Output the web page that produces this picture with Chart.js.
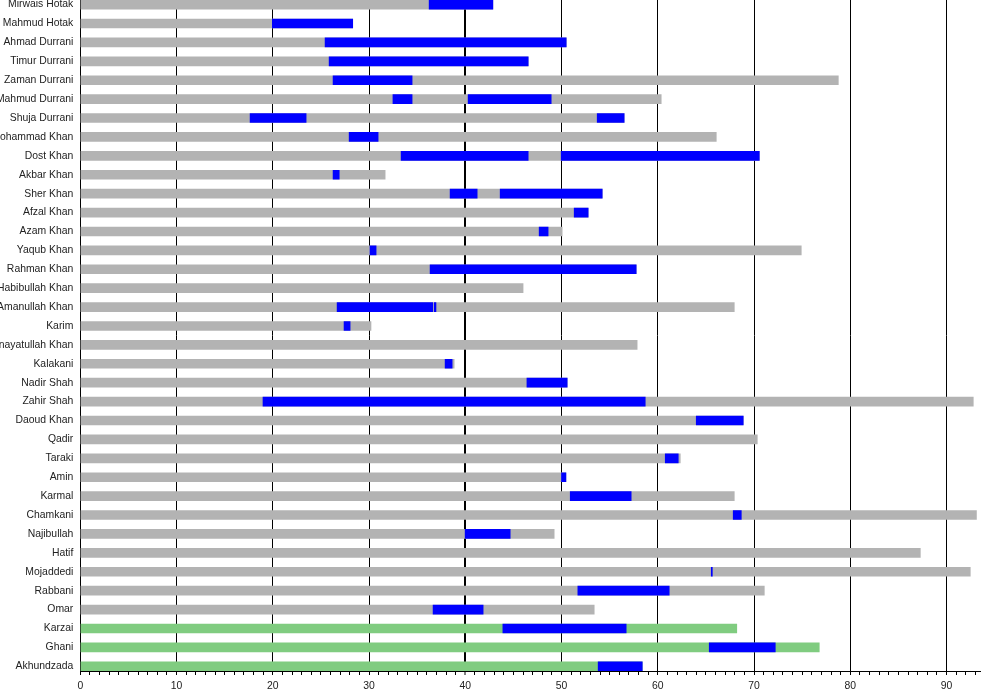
<!DOCTYPE html>
<html>
<head>
<meta charset="utf-8">
<script src="https://cdn.jsdelivr.net/npm/chart.js@4.4.1/dist/chart.umd.min.js"></script>
<style>
  html, body { margin: 0; padding: 0; background: #fff; }
  #c { display: block; }
</style>
</head>
<body>
<canvas id="c" width="1000" height="700"></canvas>
<script>
const rulers = [
  "Mirwais Hotak", "Mahmud Hotak", "Ahmad Durrani", "Timur Durrani", "Zaman Durrani",
  "Mahmud Durrani", "Shuja Durrani", "Mohammad Khan", "Dost Khan", "Akbar Khan",
  "Sher Khan", "Afzal Khan", "Azam Khan", "Yaqub Khan", "Rahman Khan",
  "Habibullah Khan", "Amanullah Khan", "Karim", "Inayatullah Khan", "Kalakani",
  "Nadir Shah", "Zahir Shah", "Daoud Khan", "Qadir", "Taraki",
  "Amin", "Karmal", "Chamkani", "Najibullah", "Hatif",
  "Mojaddedi", "Rabbani", "Omar", "Karzai", "Ghani", "Akhundzada"
];

// age at death (or current age for living people)
const lifeAge = [
  42.86, 28.3, 50.48, 46.53, 78.75,
  60.35, 56.5, 66.07, 70.54, 31.67,
  54.22, 52.76, 50.06, 74.9, 57.75,
  46.0, 67.94, 30.2, 57.85, 38.84,
  50.58, 92.77, 68.87, 70.33, 62.33,
  50.45, 67.94, 93.1, 49.23, 87.27,
  92.46, 71.06, 53.39, 68.2, 76.77, 58.38
];

// living people drawn in green
const living = [false, false, false, false, false, false, false, false, false, false,
  false, false, false, false, false, false, false, false, false, false,
  false, false, false, false, false, false, false, false, false, false,
  false, false, false, true, true, true];

// first reign: [age at start, age at end] (null = none shown)
const reign1 = [
  [36.24, 42.86], [19.95, 28.3], [25.43, 50.48], [25.85, 46.53], [26.26, 34.47],
  [32.48, 34.47], [17.64, 23.46], [27.93, 30.94], [33.33, 46.53], [26.26, 26.9],
  [38.42, 41.23], [51.31, 52.76], [47.67, 48.6], [30.1, 30.73], [36.34, 57.75],
  null, [26.68, 36.62], [27.4, 28.03], null, [37.9, 38.63],
  [46.4, 50.58], [18.98, 58.69], [63.99, 68.87], null, [60.77, 62.12],
  [49.99, 50.45], [50.9, 57.23], [67.83, 68.67], [39.98, 44.66], null,
  [65.55, 65.66], [51.69, 61.18], [36.65, 41.85], [43.9, 56.71], [65.34, 72.2], [53.8, 58.38]
];

// second reign (only for rulers who reigned twice)
const reign2 = [
  null, null, null, null, null,
  [40.29, 48.92], [53.7, 56.5], null, [49.96, 70.54], null,
  [43.62, 54.22], null, null, null, null,
  null, [36.78, 36.95], null, null, null,
  null, null, null, null, null,
  null, null, null, null, null,
  null, null, null, null, null, null
];

const xTickMax = 93.5;

const GRAY = '#b3b3b3';
const GREEN = '#80cc80';
const BLUE = '#0000ff';
const FONT = { family: '"Liberation Sans", Arial, Helvetica, sans-serif', size: 10.4 };

function segData(arr) {
  const out = [];
  arr.forEach((r, i) => { if (r) out.push({ y: i, x: [r[0], r[1]] }); });
  return out;
}

const lifeData = lifeAge.map((a, i) => ({ y: i, x: [0, a] }));

new Chart(document.getElementById('c'), {
  type: 'bar',
  data: {
    datasets: [
      { label: 'reign 1', data: segData(reign1), backgroundColor: BLUE, order: 1 },
      { label: 'reign 2', data: segData(reign2), backgroundColor: BLUE, order: 1 },
      { label: 'life', data: lifeData, backgroundColor: living.map(l => l ? GREEN : GRAY), order: 3 }
    ]
  },
  options: {
    indexAxis: 'y',
    responsive: false,
    animation: false,
    events: [],
    layout: { padding: { left: 0, right: 19.7, top: 0, bottom: 0 } },
    datasets: { bar: { grouped: false, barThickness: 9, borderWidth: 0, borderSkipped: false } },
    plugins: { legend: { display: false }, tooltip: { enabled: false }, title: { display: false } },
    scales: {
      y: {
        type: 'linear',
        reverse: true,
        offset: false,
        min: -0.243,
        max: 35.25,
        afterBuildTicks: s => { s.ticks = rulers.map((n, i) => ({ value: i })); },
        afterFit: s => { s.width = 80.3; s.paddingTop = 0; s.paddingBottom = 0; },
        grid: { display: false, drawTicks: false },
        border: { display: true, color: '#000', width: 1 },
        ticks: {
          autoSkip: false,
          padding: 7,
          color: '#222',
          font: FONT,
          callback: v => rulers[v]
        }
      },
      x: {
        type: 'linear',
        min: 0,
        max: xTickMax,
        afterFit: s => { s.height = 29; s.paddingLeft = 0; s.paddingRight = 0; },
        grid: {
          color: ctx => (ctx.tick && ctx.tick.value % 10 === 0) ? '#000' : 'rgba(0,0,0,0)',
          lineWidth: ctx => (ctx.tick && ctx.tick.value === 40) ? 2 : 1,
          tickColor: '#000',
          tickLength: 4,
          tickWidth: 1,
          drawOnChartArea: true
        },
        border: { display: true, color: '#000', width: 1 },
        ticks: {
          stepSize: 1,
          autoSkip: false,
          maxTicksLimit: 1000,
          includeBounds: false,
          maxRotation: 0,
          padding: 5,
          color: '#222',
          font: FONT,
          callback: v => (v % 10 === 0 ? String(v) : '')
        }
      }
    }
  }
});
</script>
</body>
</html>
